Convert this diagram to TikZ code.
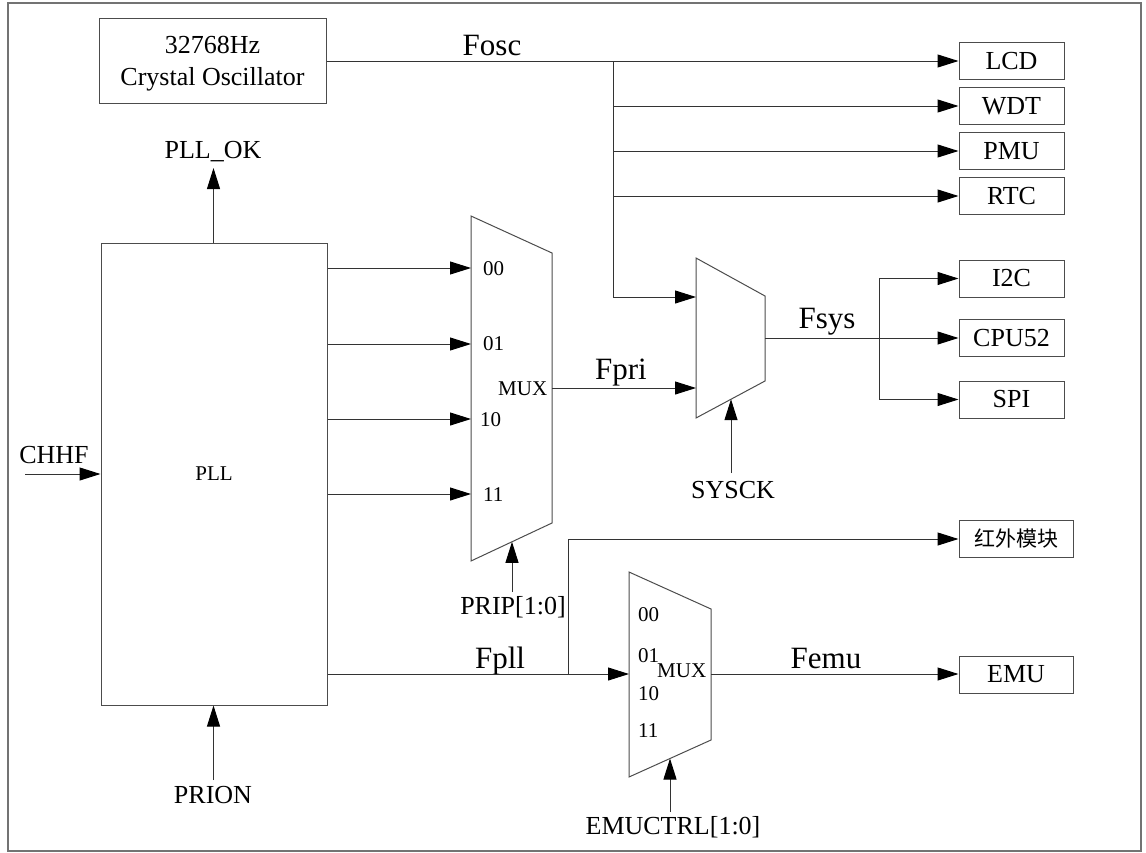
\documentclass[tikz,border=0pt]{standalone}
\usepackage{fontspec}
\setmainfont{Liberation Serif}
\newfontfamily\cjkfont{Noto Sans CJK SC}
\usetikzlibrary{arrows.meta,calc}
\newcommand\DiagBig{\fontsize{31}{36}\selectfont}
\newcommand\DiagMid{\fontsize{26}{31}\selectfont}
\newcommand\DiagSmall{\fontsize{21}{25}\selectfont}
\begin{document}
\begin{tikzpicture}[x=1pt,y=-1pt,
  wire/.style={draw=black!80, line width=1pt},
  arr/.style={wire, -{Triangle[length=21pt,width=13pt,color=black]}},
  blk/.style={draw=black!70, line width=1pt, inner sep=0pt, font=\DiagMid},
  outbox/.style={blk, minimum width=105pt, minimum height=37pt},
  widebox/.style={blk, minimum width=114pt, minimum height=37pt},
  muxshape/.style={draw=black!70, line width=1pt},
  biglbl/.style={anchor=base, inner sep=0pt, font=\DiagBig},
  midlbl/.style={anchor=base, inner sep=0pt, font=\DiagMid},
  smalllbl/.style={anchor=base west, inner sep=0pt, font=\DiagSmall}]
\useasboundingbox (0,0) rectangle (1146,852);
\draw[draw=black!55, line width=2pt] (8,3) rectangle (1141,851);

% blocks
\node[blk, minimum width=227pt, minimum height=85pt] (osc) at (212.5,60.5) {};
\node[midlbl] (osct1) at (212.5,53) {32768Hz};
\node[midlbl] (osct2) at (212.5,85) {Crystal Oscillator};
\node[blk, minimum width=226pt, minimum height=462pt, font=\DiagSmall] (pll) at (214,474) {PLL};

\node[outbox] (lcd) at (1011.5,61) {LCD};
\node[outbox] (wdt) at (1011.5,106) {WDT};
\node[outbox] (pmu) at (1011.5,151) {PMU};
\node[outbox] (rtc) at (1011.5,196) {RTC};
\node[outbox] (i2c) at (1011.5,278.5) {I2C};
\node[outbox] (cpu) at (1011.5,338) {CPU52};
\node[outbox] (spi) at (1011.5,399.5) {SPI};
\node[widebox, font=\DiagSmall\cjkfont] (ir) at (1016,539) {红外模块};
\node[widebox] (emu) at (1016,674.5) {EMU};

% mux shapes
\draw[muxshape] (471,216) coordinate (m1tl) -- (552,253) -- (552,523) -- (471,561) coordinate (m1bl) -- cycle;
\draw[muxshape] (696,258) coordinate (m2tl) -- (765,296) -- (765,381) -- (696,418) coordinate (m2bl) -- cycle;
\draw[muxshape] (629,572) coordinate (m3tl) -- (711,609) -- (711,740) -- (629,777) coordinate (m3bl) -- cycle;
\coordinate (m1out) at (552,388);
\coordinate (m2out) at (765,338);
\coordinate (m3out) at (711,674);
\coordinate (m1sel) at (512,541.8);
\coordinate (m2sel) at (731,399.2);
\coordinate (m3sel) at (670,758.5);
\coordinate (m1i0) at (471,268);
\coordinate (m1i1) at (471,344);
\coordinate (m1i2) at (471,419);
\coordinate (m1i3) at (471,494);
\coordinate (m2i0) at (696,297);

% mux labels
\node[smalllbl] (m1a) at (483,275) {00};
\node[smalllbl] (m1b) at (483,350) {01};
\node[smalllbl] (m1m) at (498,395) {MUX};
\node[smalllbl] (m1c) at (480,426) {10};
\node[smalllbl] (m1d) at (483,501) {11};
\node[smalllbl] (m3a) at (638,621) {00};
\node[smalllbl] (m3b) at (638,662) {01};
\node[smalllbl] (m3m) at (657,677) {MUX};
\node[smalllbl] (m3c) at (638,700) {10};
\node[smalllbl] (m3d) at (638,737) {11};

% signal labels
\node[biglbl] (fosc) at (492,55) {Fosc};
\node[biglbl] (fpri) at (621,379) {Fpri};
\node[biglbl] (fsys) at (827,328) {Fsys};
\node[biglbl] (fpll) at (500,668) {Fpll};
\node[biglbl] (femu) at (826,668) {Femu};
\node[midlbl] (pllok) at (213,158) {PLL\_OK};
\node[midlbl] (chhf) at (54,463) {CHHF};
\node[midlbl] (prion) at (213,803) {PRION};
\node[midlbl] (sysck) at (733,498) {SYSCK};
\node[midlbl] (prip) at (513,614) {PRIP[1:0]};
\node[midlbl] (emuctrl) at (673,834) {EMUCTRL[1:0]};

% free ends
\coordinate (pllokin) at (213.5,168);
\coordinate (chhfin) at (25,474);
\coordinate (prionin) at (213.5,780);
\coordinate (sysckin) at (731,473);
\coordinate (pripin) at (512,592);
\coordinate (emuctrlin) at (670,812);
\coordinate (fbr) at (613,61);
\coordinate (sbr) at (879,338);
\coordinate (pbr) at (568,674);

% Fosc distribution
\draw[arr] (osc.east |- lcd.west) -- (lcd.west);
\draw[arr] (fbr) -- (fbr |- m2i0) -- (m2i0);
\draw[arr] (fbr |- wdt.west) -- (wdt.west);
\draw[arr] (fbr |- pmu.west) -- (pmu.west);
\draw[arr] (fbr |- rtc.west) -- (rtc.west);

% PLL
\draw[arr] (pll.north -| pllokin) -- (pllokin);
\draw[arr] (chhfin) -- (chhfin -| pll.west);
\draw[arr] (prionin) -- (prionin |- pll.south);
\draw[arr] (pll.east |- m1i0) -- (m1i0);
\draw[arr] (pll.east |- m1i1) -- (m1i1);
\draw[arr] (pll.east |- m1i2) -- (m1i2);
\draw[arr] (pll.east |- m1i3) -- (m1i3);

% MUX1 -> MUX2
\draw[arr] (m1out) -- (m1out -| m2tl);
\draw[arr] (pripin) -- (m1sel);
\draw[arr] (sysckin) -- (m2sel);

% Fsys distribution
\draw[arr] (m2out) -- (cpu.west);
\draw[wire] (sbr |- i2c.west) -- (sbr |- spi.west);
\draw[arr] (sbr |- i2c.west) -- (i2c.west);
\draw[arr] (sbr |- spi.west) -- (spi.west);

% Fpll
\draw[arr] (pll.east |- pbr) -- (pbr -| m3tl);
\draw[arr] (pbr) -- (pbr |- ir.west) -- (ir.west);
\draw[arr] (emuctrlin) -- (m3sel);
\draw[arr] (m3out) -- (m3out -| emu.west);
\end{tikzpicture}
\end{document}
